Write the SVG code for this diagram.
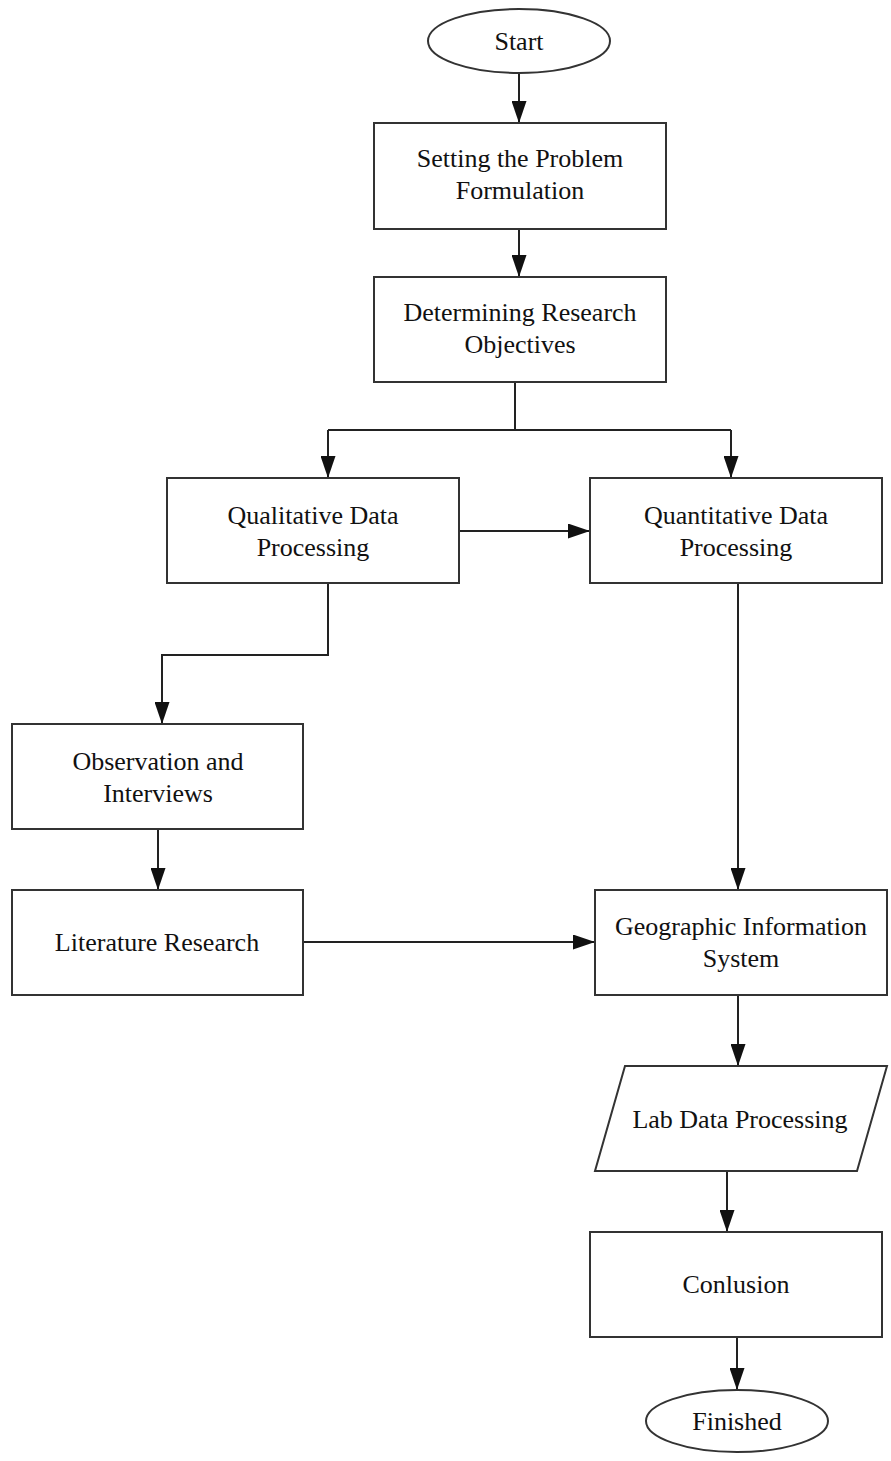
<svg xmlns="http://www.w3.org/2000/svg" width="891" height="1461" viewBox="0 0 891 1461">
<defs>
<marker id="ah" markerUnits="userSpaceOnUse" markerWidth="22" markerHeight="15" refX="22" refY="7.5" orient="auto" viewBox="0 0 22 15">
<path d="M0,0 L22,7.5 L0,15 Z" fill="#111"/>
</marker>
<style>
.n{fill:#fff;stroke:#333;stroke-width:2}
.t{font-family:'Liberation Serif','DejaVu Serif',serif;font-size:26px;fill:#111;text-anchor:middle}
.c{fill:none;stroke:#222;stroke-width:2;marker-end:url(#ah)}
.l{fill:none;stroke:#222;stroke-width:2}
</style>
</defs>
<rect width="891" height="1461" fill="#fff"/>
<g id="connectors">
<path class="c" d="M519,73 V123"/>
<path class="c" d="M519,229 V277"/>
<path class="l" d="M515,382 V430 M328,430 H731"/>
<path class="c" d="M328,430 V478"/>
<path class="c" d="M731,430 V478"/>
<path class="c" d="M459,531 H590"/>
<path class="c" d="M328,583 V655 H162 V724"/>
<path class="c" d="M158,829 V890"/>
<path class="c" d="M303,942 H595"/>
<path class="c" d="M738,583 V890"/>
<path class="c" d="M738,995 V1066"/>
<path class="c" d="M727,1171 V1232"/>
<path class="c" d="M737,1337 V1390"/>
</g>
<g id="start">
<ellipse class="n" cx="519" cy="41" rx="91" ry="32"/>
<text class="t" x="519" y="50" font-family="Liberation Serif, serif">Start</text>
</g>
<g id="setting">
<rect class="n" x="374" y="123" width="292" height="106"/>
<text class="t" x="520" y="167">Setting the Problem</text>
<text class="t" x="520" y="199">Formulation</text>
</g>
<g id="determining">
<rect class="n" x="374" y="277" width="292" height="105"/>
<text class="t" x="520" y="321">Determining Research</text>
<text class="t" x="520" y="353">Objectives</text>
</g>
<g id="qualitative">
<rect class="n" x="167" y="478" width="292" height="105"/>
<text class="t" x="313" y="524">Qualitative Data</text>
<text class="t" x="313" y="556">Processing</text>
</g>
<g id="quantitative">
<rect class="n" x="590" y="478" width="292" height="105"/>
<text class="t" x="736" y="524">Quantitative Data</text>
<text class="t" x="736" y="556">Processing</text>
</g>
<g id="observation">
<rect class="n" x="12" y="724" width="291" height="105"/>
<text class="t" x="158" y="770">Observation and</text>
<text class="t" x="158" y="802">Interviews</text>
</g>
<g id="literature">
<rect class="n" x="12" y="890" width="291" height="105"/>
<text class="t" x="157" y="951">Literature Research</text>
</g>
<g id="gis">
<rect class="n" x="595" y="890" width="292" height="105"/>
<text class="t" x="741" y="935">Geographic Information</text>
<text class="t" x="741" y="967">System</text>
</g>
<g id="lab">
<polygon class="n" points="625,1066 887,1066 857,1171 595,1171"/>
<text class="t" x="740" y="1128">Lab Data Processing</text>
</g>
<g id="conclusion">
<rect class="n" x="590" y="1232" width="292" height="105"/>
<text class="t" x="736" y="1293">Conlusion</text>
</g>
<g id="finished">
<ellipse class="n" cx="737" cy="1421" rx="91" ry="31"/>
<text class="t" x="737" y="1430">Finished</text>
</g>
</svg>
